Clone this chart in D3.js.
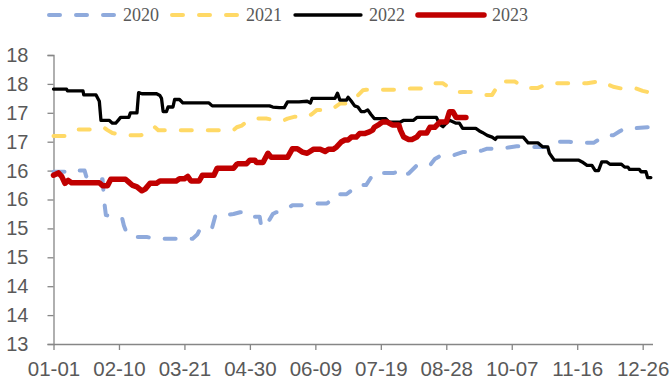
<!DOCTYPE html>
<html>
<head>
<meta charset="utf-8">
<script src="https://cdn.jsdelivr.net/npm/d3@7/dist/d3.min.js"></script>
<style>
  html, body { margin: 0; padding: 0; background: #fff; }
  svg { display: block; }
</style>
</head>
<body>
<svg id="chart" width="670" height="383"></svg>
<script>
// Series: [day of year (0 = 01-01), value]
const s2020 = [[0,15.98],[8,15.98],[10,16.02],[15,16.0],[19,16.0],[20,15.9],[22,15.88],[30,15.85],[31,15.46],[32,15.23],[37,15.2],[39,15.17],[42,15.17],[43,15.05],[45,14.9],[51,14.85],[57,14.85],[64,14.82],[85,14.82],[88,14.9],[90,15.02],[97,15.02],[99,15.23],[105,15.23],[110,15.25],[114,15.28],[117,15.28],[120,15.2],[126,15.2],[127,15.02],[130,15.05],[134,15.25],[136,15.28],[139,15.28],[142,15.33],[146,15.4],[152,15.4],[161,15.43],[167,15.43],[170,15.5],[172,15.59],[179,15.59],[183,15.68],[185,15.75],[191,15.75],[194,15.88],[196,15.96],[203,15.96],[208,15.96],[212,16.0],[214,15.92],[217,15.95],[222,16.09],[230,16.09],[233,16.2],[236,16.25],[243,16.25],[250,16.32],[258,16.32],[262,16.35],[265,16.38],[273,16.38],[278,16.4],[283,16.42],[288,16.42],[291,16.41],[303,16.41],[306,16.45],[309,16.5],[315,16.5],[321,16.48],[330,16.48],[334,16.55],[337,16.61],[342,16.61],[346,16.68],[349,16.73],[353,16.73],[363,16.75],[366,16.75]];

const s2021 = [[0,16.6],[8,16.6],[10,16.65],[15,16.71],[27,16.71],[29,16.74],[31,16.74],[33,16.7],[36,16.65],[44,16.61],[53,16.61],[58,16.65],[61,16.74],[62,16.75],[64,16.7],[110,16.7],[112,16.75],[115,16.78],[118,16.84],[120,16.87],[122,16.9],[130,16.9],[134,16.88],[137,16.86],[140,16.86],[143,16.9],[147,16.93],[155,16.93],[158,16.98],[161,17.05],[169,17.05],[172,17.1],[175,17.16],[179,17.16],[183,17.2],[186,17.3],[189,17.39],[191,17.4],[214,17.4],[218,17.42],[226,17.42],[230,17.45],[233,17.51],[238,17.51],[241,17.45],[244,17.38],[246,17.36],[255,17.36],[258,17.33],[262,17.31],[268,17.31],[270,17.4],[273,17.54],[282,17.54],[285,17.48],[288,17.43],[296,17.43],[300,17.48],[303,17.51],[326,17.51],[330,17.53],[334,17.54],[336,17.54],[338,17.5],[342,17.45],[347,17.42],[356,17.42],[360,17.38],[366,17.34]];

const s2022 = [[0,17.41],[8,17.41],[8.5,17.38],[18,17.38],[18.5,17.31],[26,17.31],[28,17.2],[29,16.87],[34,16.87],[36,16.82],[38,16.82],[39.5,16.87],[41,16.92],[46,16.92],[47,17.0],[51,17.0],[52,17.35],[54,17.33],[63,17.33],[65,17.3],[66,17.25],[67,17.02],[69,17.02],[70,17.1],[73,17.1],[74,17.23],[77,17.23],[79,17.17],[95,17.17],[97,17.12],[132,17.12],[134,17.1],[138,17.09],[141,17.09],[143,17.19],[150,17.19],[155,17.2],[157,17.17],[158,17.25],[172,17.25],[173.5,17.34],[175,17.22],[179,17.22],[180,17.27],[182,17.2],[184,17.12],[186,17.1],[188,17.02],[190,17.02],[192,17.05],[194,16.97],[196,16.9],[203,16.9],[205,16.84],[212,16.84],[214,16.87],[220,16.87],[222,16.92],[234,16.92],[236,16.8],[238,16.76],[240,16.82],[242,16.87],[246,16.82],[248,16.82],[250,16.73],[258,16.73],[260,16.69],[262,16.66],[265,16.61],[268,16.58],[270,16.54],[271,16.58],[287,16.58],[290,16.48],[296,16.48],[299,16.41],[302,16.41],[303,16.3],[306,16.18],[321,16.18],[323,16.15],[326,16.09],[329,16.09],[331,16.0],[333,16.0],[335,16.15],[338,16.15],[340,16.11],[347,16.11],[349,16.06],[351,16.06],[352,16.02],[358,16.02],[359,15.98],[362,15.98],[363,15.88],[365,15.88]];

const s2023 = [[0,15.92],[3,15.96],[5,15.9],[7,15.78],[9,15.83],[11,15.79],[28,15.79],[30,15.74],[33,15.74],[35,15.85],[44,15.85],[46,15.8],[48,15.75],[51,15.72],[54,15.65],[56,15.68],[59,15.78],[63,15.78],[65,15.82],[75,15.82],[77,15.86],[80,15.86],[82,15.9],[84,15.82],[89,15.82],[91,15.92],[98,15.92],[100,16.04],[110,16.04],[112,16.11],[113,16.12],[118,16.12],[120,16.18],[123,16.18],[124,16.14],[128,16.14],[131,16.3],[133,16.23],[143,16.23],[146,16.38],[149,16.38],[152,16.32],[155,16.3],[159,16.37],[163,16.37],[166,16.33],[168,16.37],[171,16.37],[173,16.41],[176,16.5],[178,16.53],[180,16.53],[182,16.58],[185,16.58],[187,16.64],[190,16.64],[193,16.67],[195,16.7],[196,16.75],[199,16.8],[201,16.84],[204,16.84],[207,16.79],[211,16.79],[212,16.7],[214,16.58],[217,16.54],[219,16.54],[222,16.58],[224,16.65],[228,16.65],[230,16.75],[233,16.75],[236,16.84],[240,16.84],[242,17.02],[244,17.02],[246,16.92],[252,16.92]];

const seriesNames = ["2020", "2021", "2022", "2023"];
const seriesData = [s2020, s2021, s2022, s2023];

const xTickDays = [0, 40, 80, 120, 160, 200, 240, 280, 320, 360];
const xTickLabels = ["01-01", "02-10", "03-21", "04-30", "06-09", "07-19", "08-28", "10-07", "11-16", "12-26"];
const yTickValues = [13, 13.5, 14, 14.5, 15, 15.5, 16, 16.5, 17, 17.5, 18];
const yTickLabels = ["13", "14", "14", "15", "15", "16", "16", "17", "17", "18", "18"];

// Line styles per series
const styles = {
  "2020": { color: "#8FAADC", width: 4, dash: "11,16" },
  "2021": { color: "#FFD966", width: 4, dash: "11,16" },
  "2022": { color: "#000000", width: 3.3, dash: null },
  "2023": { color: "#C00000", width: 5.5, dash: null }
};

const svg = d3.select("#chart");
const axisColor = "#868686";
const textColor = "#595959";

const x = d3.scaleLinear().domain([0, 366]).range([53.5, 652.5]);
const y = d3.scaleLinear().domain([13, 18]).range([344, 55]);

// Y axis
const yAxis = d3.axisLeft(y)
  .tickValues(yTickValues)
  .tickFormat((d, i) => yTickLabels[i])
  .tickSize(6)
  .tickPadding(19);
const gy = svg.append("g").attr("transform", `translate(${x(0)},0)`).call(yAxis);
gy.select(".domain").attr("stroke", axisColor).attr("stroke-width", 1.3);
gy.selectAll(".tick line").attr("stroke", axisColor).attr("stroke-width", 1.3);
gy.selectAll(".tick text")
  .attr("fill", textColor)
  .style("font-family", "'Liberation Sans', Arial, sans-serif")
  .style("font-size", "20px");

// X axis
const xAxis = d3.axisBottom(x)
  .tickValues(xTickDays)
  .tickFormat((d, i) => xTickLabels[i])
  .tickSize(6)
  .tickSizeOuter(0)
  .tickPadding(11);
const gx = svg.append("g").attr("transform", `translate(0,${y(13)})`).call(xAxis);
gx.select(".domain").attr("stroke", axisColor).attr("stroke-width", 1.3);
gx.selectAll(".tick line").attr("stroke", axisColor).attr("stroke-width", 1.3);
gx.selectAll(".tick text")
  .attr("fill", textColor)
  .style("font-family", "'Liberation Sans', Arial, sans-serif")
  .style("font-size", "20.5px");

// Lines
const line = d3.line().x(d => x(d[0])).y(d => y(d[1]));
seriesNames.forEach((name, i) => {
  const st = styles[name];
  svg.append("path")
    .datum(seriesData[i])
    .attr("fill", "none")
    .attr("stroke", st.color)
    .attr("stroke-width", st.width)
    .attr("stroke-linejoin", "round")
    .attr("stroke-linecap", "round")
    .attr("stroke-dasharray", st.dash)
    .attr("d", line);
});

// Legend
const legend = svg.append("g").attr("transform", "translate(47,15)");
seriesNames.forEach((name, i) => {
  const st = styles[name];
  const g = legend.append("g").attr("transform", `translate(${i * 123},0)`);
  g.append("line")
    .attr("x1", 2).attr("x2", 68).attr("y1", 0).attr("y2", 0)
    .attr("stroke", st.color)
    .attr("stroke-width", st.width)
    .attr("stroke-linecap", "round")
    .attr("stroke-dasharray", st.dash);
  g.append("text")
    .attr("x", 76).attr("y", 0)
    .attr("dy", "0.35em")
    .attr("fill", textColor)
    .style("font-family", "'Liberation Serif', 'Times New Roman', serif")
    .style("font-size", "18px")
    .text(name);
});
</script>
</body>
</html>
